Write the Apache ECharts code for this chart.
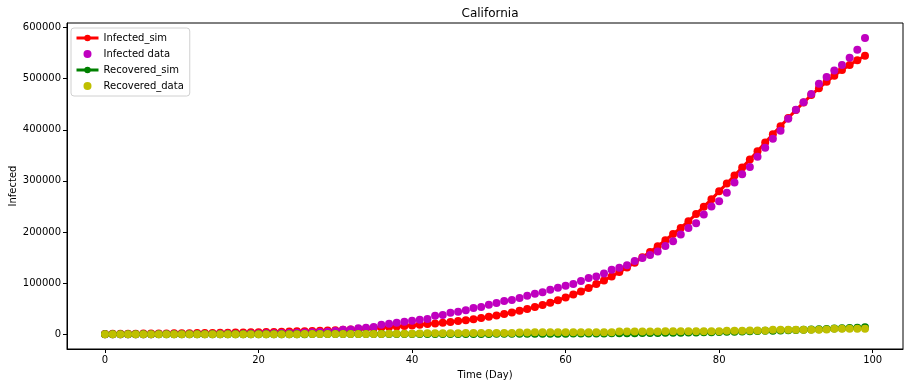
<!DOCTYPE html>
<html>
<head>
<meta charset="utf-8">
<script src="https://cdn.jsdelivr.net/npm/echarts@6/dist/echarts.min.js"></script>
<style>
html,body{margin:0;padding:0;background:#fff;}
#chartMain{width:910px;height:387px;}
</style>
</head>
<body>
<div id="chartMain"></div>
<script>
// 天数
var days = [0,1,2,3,4,5,6,7,8,9,10,11,12,13,14,15,16,17,18,19,
    20,21,22,23,24,25,26,27,28,29,30,31,32,33,34,35,36,37,38,39,
    40,41,42,43,44,45,46,47,48,49,50,51,52,53,54,55,56,57,58,59,
    60,61,62,63,64,65,66,67,68,69,70,71,72,73,74,75,76,77,78,79,
    80,81,82,83,84,85,86,87,88,89,90,91,92,93,94,95,96,97,98,99];
// 感染-模拟
var infectedSim = [600,700,800,900,1000,1100,1200,1350,1500,1650,
    1800,1950,2100,2300,2500,2700,2900,3100,3350,3600,
    3900,4200,4500,4850,5200,5550,5950,6400,6900,7400,
    7900,8600,9400,10200,11100,12000,13000,14000,15000,16100,
    17200,18400,19700,21000,22400,24000,25600,27300,29300,31500,
    34000,36500,39500,42500,45800,49300,53000,57000,61500,66500,
    72000,77500,83500,90500,98000,105000,113000,121500,130500,140000,
    150500,161000,172000,184000,196000,208000,221000,235000,249500,264000,
    279500,295000,310500,326000,342000,358000,375000,391500,407000,423000,
    438500,453500,468000,481500,494000,506000,517000,527000,536000,545000];
// 感染-实际
var infectedData = [0,0,10,20,40,60,90,120,160,200,
    260,320,400,480,570,670,780,900,1050,1200,
    1400,1600,1850,2100,2400,2700,3100,3600,4200,4900,
    6000,8800,9000,11400,12700,14000,18500,20500,22400,24400,
    26300,28300,29600,36000,37400,42000,44000,47000,51000,53000,
    57500,60800,64700,67000,71000,75000,79000,82000,87000,91000,
    95000,98000,104000,110000,113000,119000,126000,130000,135000,143000,
    149000,155000,162000,172600,182000,195000,207700,217000,234000,250000,
    260000,277000,297000,313000,327000,347000,365000,382600,398000,421600,
    439000,454000,470000,490000,503500,515800,527000,541000,556700,579500];
// 康复-模拟
var recoveredSim = [0,0,0,1,2,3,5,7,9,12,
    15,18,21,25,29,33,38,43,48,54,
    60,66,73,80,88,96,105,114,124,134,
    145,156,168,181,195,210,225,241,258,277,
    297,318,340,363,388,414,442,472,503,536,
    570,606,645,686,730,777,827,880,937,1000,
    1070,1145,1225,1310,1400,1495,1600,1710,1830,1960,
    2100,2250,2410,2580,2760,2950,3150,3360,3590,3830,
    4300,4600,4950,5300,5700,6100,6500,6950,7400,7850,
    8300,8800,9300,9800,10350,10900,11500,12100,12700,13400];
// 康复-实际
var recoveredData = [0,0,0,0,0,0,0,0,0,0,
    0,0,0,0,0,0,0,0,10,20,
    30,40,50,60,80,100,120,150,180,200,
    250,300,350,400,450,500,600,700,800,900,
    1000,1500,1800,1800,2000,2000,2000,2200,2200,2300,
    2300,2400,2400,2500,3500,3500,3600,3600,3600,3700,
    3700,3800,3800,3900,3900,4000,4000,5200,5300,5300,
    5400,5400,5400,5500,5500,5500,5600,5600,5600,5700,
    5700,6800,6900,6900,7000,7000,7100,8500,8600,8700,
    8700,8800,8800,8900,9000,10500,10600,10600,10700,10800];
var xTicks = [0,20,40,60,80,100];
var yTicks = [0,100000,200000,300000,400000,500000,600000];

function toPairs(arr){
    var r = [];
    for(var i=0;i<days.length;i++){
        r.push([days[i], arr[i]]);
    }
    return r;
}

var font = 'DejaVu Sans';
var myChart = echarts.init(document.getElementById('chartMain'));
var option = {
    animation:false,
    backgroundColor:'#fff',
    textStyle:{fontFamily:font},
    title:{
        text:'California',
        left:485,
        top:3,
        textAlign:'center',
        textStyle:{fontFamily:font,fontSize:12,fontWeight:'normal',color:'#000'}
    },
    legend:{
        orient:'vertical',
        left:71,
        top:28,
        padding:[4,6,4,4],
        itemGap:4,
        itemWidth:22,
        itemHeight:8,
        lineStyle:{width:3},
        backgroundColor:'#fff',
        borderColor:'#d0d0d0',
        borderWidth:1,
        borderRadius:3,
        textStyle:{fontFamily:font,fontSize:10,color:'#000',lineHeight:12},
        data:['Infected_sim','Infected data','Recovered_sim','Recovered_data']
    },
    grid:{
        left:67,right:7,top:23,bottom:38,
        containLabel:false,
        outerBoundsMode:'none',
        show:true,borderColor:'#000',borderWidth:1
    },
    xAxis:{
        type:'value',
        min:-4.95,
        max:103.95,
        name:'Time (Day)',
        nameLocation:'middle',
        nameGap:21,
        nameMoveOverlap:false,
        nameTextStyle:{fontFamily:font,fontSize:10,color:'#000'},
        axisLine:{show:true,onZero:false,lineStyle:{color:'#000',width:1}},
        axisTick:{show:true,length:4,customValues:xTicks,lineStyle:{color:'#000'}},
        axisLabel:{customValues:xTicks,fontFamily:font,fontSize:10,color:'#000',margin:6},
        splitLine:{show:false}
    },
    yAxis:{
        type:'value',
        min:-29000,
        max:609000,
        name:'Infected',
        nameLocation:'middle',
        nameGap:49,
        nameMoveOverlap:false,
        nameTextStyle:{fontFamily:font,fontSize:10,color:'#000'},
        axisLine:{show:true,onZero:false,lineStyle:{color:'#000',width:1}},
        axisTick:{show:true,length:4,customValues:yTicks,lineStyle:{color:'#000'}},
        axisLabel:{customValues:yTicks,fontFamily:font,fontSize:10,color:'#000',margin:6,
            formatter:function(v){return String(v);}},
        splitLine:{show:false}
    },
    series:[
        {
            name:'Infected_sim',type:'line',data:toPairs(infectedSim),z:2,
            symbol:'circle',symbolSize:8,showSymbol:true,
            lineStyle:{color:'#ff0000',width:3},
            itemStyle:{color:'#ff0000'}
        },
        {
            name:'Infected data',type:'scatter',data:toPairs(infectedData),z:3,
            symbol:'circle',symbolSize:8,
            itemStyle:{color:'#bf00bf',opacity:1}
        },
        {
            name:'Recovered_sim',type:'line',data:toPairs(recoveredSim),z:4,
            symbol:'circle',symbolSize:8,showSymbol:true,
            lineStyle:{color:'#008000',width:3},
            itemStyle:{color:'#008000'}
        },
        {
            name:'Recovered_data',type:'scatter',data:toPairs(recoveredData),z:5,
            symbol:'circle',symbolSize:8,
            itemStyle:{color:'#bfbf00',opacity:1}
        }
    ]
};
myChart.setOption(option);
</script>
</body>
</html>
